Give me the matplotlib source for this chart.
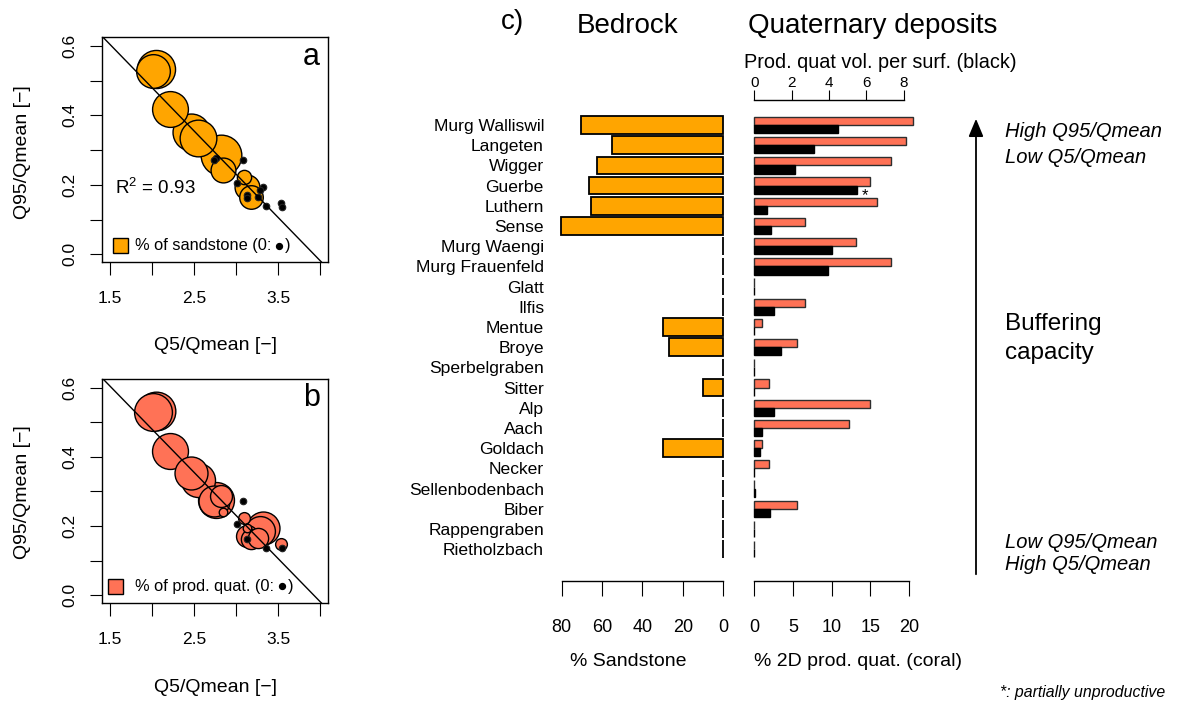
import matplotlib.pyplot as plt
from matplotlib.patches import Rectangle
import numpy as np

plt.rcParams['font.family'] = ['Liberation Sans', 'DejaVu Sans']
plt.rcParams['mathtext.fontset'] = 'custom'
plt.rcParams['mathtext.rm'] = 'Liberation Sans'
plt.rcParams['axes.linewidth'] = 1.0

W, H = 1177, 702
PT = 72 / 100  # pixels -> points at dpi 100

# ---- data -------------------------------------------------------------
catchments = ["Murg Walliswil", "Langeten", "Wigger", "Guerbe", "Luthern", "Sense",
              "Murg Waengi", "Murg Frauenfeld", "Glatt", "Ilfis", "Mentue", "Broye",
              "Sperbelgraben", "Sitter", "Alp", "Aach", "Goldach", "Necker",
              "Sellenbodenbach", "Biber", "Rappengraben", "Rietholzbach"]
sandstone = [70.6, 55.2, 62.4, 66.3, 65.5, 80.5, 0, 0, 0, 0, 30.0, 27.0,
             0, 9.9, 0, 0, 30.0, 0, 0, 0, 0, 0]
prod_quat_2d = [20.5, 19.6, 17.7, 14.9, 15.9, 6.6, 13.1, 17.7, 0, 6.6, 1.0, 5.6,
                0, 1.9, 14.9, 12.2, 1.0, 1.9, 0, 5.6, 0, 0]
prod_quat_vol = [4.47, 3.21, 2.19, 5.49, 0.70, 0.91, 4.17, 3.96, 0, 1.07, 0, 1.44,
                 0, 0, 1.07, 0.43, 0.32, 0, 0.05, 0.86, 0, 0]
q5_qmean = [2.048, 2.008, 2.214, 2.464, 2.551, 2.825, 2.74, 2.76, 3.08, 3.13, 2.849, 3.175,
            3.008, 3.095, 3.325, 3.29, 3.135, 3.53, 3.125, 3.266, 3.357, 3.544]
q95_qmean = [0.533, 0.529, 0.418, 0.353, 0.334, 0.286, 0.272, 0.276, 0.272, 0.170, 0.242, 0.164,
             0.206, 0.223, 0.195, 0.185, 0.194, 0.147, 0.162, 0.165, 0.138, 0.136]
fit_intercept, fit_slope = 0.978, -0.249

ORANGE = '#FFA500'
CORAL = '#FF7256'


def rect(x0, y0, x1, y1):
    # pixel box (top-left origin) -> figure fraction rect
    return [x0 / W, (H - y1) / H, (x1 - x0) / W, (y1 - y0) / H]


fig = plt.figure(figsize=(W / 100, H / 100), dpi=100)


def scatter_panel(box, sizes, scale, color):
    ax = fig.add_axes(rect(*box))
    ax.set_xlim(1.405, 4.095)
    ax.set_ylim(-0.023, 0.625)
    x = np.array(q5_qmean)
    y = np.array(q95_qmean)
    v = np.array(sizes, dtype=float)
    order = np.argsort(-v)
    for i in order:
        if v[i] > 0:
            ax.scatter(x[i], y[i], s=v[i] * scale, facecolor=color, edgecolor='black',
                       linewidth=1.0, zorder=2)
        else:
            ax.scatter(x[i], y[i], s=22, facecolor='black', edgecolor='#222222',
                       linewidth=0.8, zorder=3)
    ax.axline((0, fit_intercept), slope=fit_slope, color='black', lw=1.0, zorder=4)
    ax.set_xticks(np.arange(1.5, 4.01, 0.5))
    ax.set_xticklabels(['1.5', '', '2.5', '', '3.5', ''])
    ax.set_yticks(np.arange(0, 0.61, 0.1))
    ax.set_yticklabels(['0.0', '', '0.2', '', '0.4', '', '0.6'], rotation=90, va='center')
    ax.tick_params(axis='x', length=13 * PT, pad=15.5 * PT, labelsize=12.5)
    ax.tick_params(axis='y', length=12 * PT, pad=13 * PT, labelsize=12.5)
    return ax


ax_a = scatter_panel((102, 37.3, 328, 262.3), sandstone, 10.66, ORANGE)
ax_b = scatter_panel((102, 379, 328, 603.3), prod_quat_2d, 37.8, CORAL)

# ---- bar chart ----------------------------------------------------------
rows = np.arange(len(catchments))
row_lim = (22.559, -0.990)

ax_s = fig.add_axes(rect(555, 105, 735, 580.7))
ax_s.barh(rows, sandstone, height=0.876, color=ORANGE, edgecolor='black', linewidth=1.3)
ax_s.set_xlim(83.3, -5.8)
ax_s.set_ylim(*row_lim)
ax_s.set_yticks(rows)
ax_s.set_yticklabels(catchments, fontsize=12.6)
ax_s.tick_params(axis='y', length=0, pad=11 * PT)
ax_s.set_xticks([80, 60, 40, 20, 0])
ax_s.tick_params(axis='x', length=15 * PT, pad=23 * PT, labelsize=13)
for side in ['left', 'right', 'top']:
    ax_s.spines[side].set_visible(False)
ax_s.spines['bottom'].set_bounds(0, 80)
ax_s.patch.set_visible(False)

ax_q = fig.add_axes(rect(745, 105, 930, 580.7))
ax_q.barh(rows - 0.205, prod_quat_2d, height=0.41, color=CORAL, edgecolor='#2e2e2e',
          linewidth=1.0)
ax_q.set_xlim(-1.16, 22.67)
ax_q.set_ylim(*row_lim)
ax_q.set_yticks([])
ax_q.set_xticks([0, 5, 10, 15, 20])
ax_q.tick_params(axis='x', length=15 * PT, pad=23 * PT, labelsize=13)
for side in ['left', 'right', 'top']:
    ax_q.spines[side].set_visible(False)
ax_q.spines['bottom'].set_bounds(0, 20)
ax_q.patch.set_visible(False)

ax_v = ax_q.twiny()
ax_v.barh(rows + 0.205, prod_quat_vol, height=0.41, color='black', edgecolor='black',
          linewidth=1.0)
ax_v.set_xlim(-0.498, 9.408)
ax_v.set_ylim(*row_lim)
ax_v.set_xticks([0, 2, 4, 6, 8])
ax_v.tick_params(axis='x', length=10 * PT, pad=0, labelsize=11)
for side in ['left', 'right', 'bottom']:
    ax_v.spines[side].set_visible(False)
ax_v.spines['top'].set_bounds(0, 8)
ax_v.spines['top'].set_position(('outward', 5 * PT))
ax_v.text(prod_quat_vol[3] + 0.27, rows[3] + 0.70, '*', fontsize=12, ha='left', va='baseline')

# ---- annotations (pixel overlay) ---------------------------------------
ov = fig.add_axes([0, 0, 1, 1])
ov.set_xlim(0, W)
ov.set_ylim(H, 0)
ov.axis('off')

ov.text(311.7, 65, 'a', fontsize=22, ha='center', va='baseline')
ov.text(311.7, 405.7, 'b', fontsize=22, ha='center', va='baseline')
ov.text(115, 193.5, r'R$^{2}$ = 0.93', fontsize=13.5, ha='left', va='baseline')

for cy in (151.7, 491.7):
    ov.text(22.5, cy, 'Q95/Qmean [\u2212]', fontsize=14, rotation=90, ha='center', va='center')
for cy in (345, 687):
    ov.text(215, cy, 'Q5/Qmean [\u2212]', fontsize=14, ha='center', va='center')

# legends inside scatter panels: box, text, black dot placed after the text
renderer = fig.canvas.get_renderer()
inv = ov.transData.inverted()
for (sq_x, sq_y, cy, label, col) in [(113.3, 238, 245.5, '% of sandstone (0:', ORANGE),
                                    (108.3, 578.5, 586, '% of prod. quat. (0:', CORAL)]:
    ov.add_patch(Rectangle((sq_x, sq_y), 15, 15, facecolor=col, edgecolor='black', lw=1))
    t = ov.text(135, cy, label, fontsize=11.8, ha='left', va='center')
    bb = t.get_window_extent(renderer)
    x_end = inv.transform((bb.x1, bb.y0))[0]
    ov.scatter([x_end + 8], [cy], s=18, color='black')
    ov.text(x_end + 14, cy, ')', fontsize=11.8, ha='left', va='center')

ov.text(513, 22, 'c)', fontsize=20, ha='center', va='center')
ov.text(628, 26, 'Bedrock', fontsize=20, ha='center', va='center')
ov.text(873, 26, 'Quaternary deposits', fontsize=20, ha='center', va='center')
ov.text(880, 63, 'Prod. quat vol. per surf. (black)', fontsize=14.3, ha='center', va='center')
ov.text(628, 662, '% Sandstone', fontsize=14, ha='center', va='center')
ov.text(858, 662, '% 2D prod. quat. (coral)', fontsize=14, ha='center', va='center')

ov.annotate('', xy=(976, 116), xytext=(976, 577),
            arrowprops=dict(arrowstyle='-|>,head_length=1.08,head_width=0.45',
                            mutation_scale=10, color='black', lw=1.3))
ov.text(1005, 131.7, 'High Q95/Qmean', fontsize=14.5, style='italic', ha='left', va='center')
ov.text(1005, 157.3, 'Low Q5/Qmean', fontsize=14.5, style='italic', ha='left', va='center')
ov.text(1005, 324, 'Buffering', fontsize=17.5, ha='left', va='center')
ov.text(1005, 352.5, 'capacity', fontsize=17.5, ha='left', va='center')
ov.text(1005, 542.7, 'Low Q95/Qmean', fontsize=14.5, style='italic', ha='left', va='center')
ov.text(1005, 565, 'High Q5/Qmean', fontsize=14.5, style='italic', ha='left', va='center')
ov.text(1000, 692.7, '*: partially unproductive', fontsize=11.4, style='italic',
        ha='left', va='center')

fig.savefig('out.png', dpi=100)
